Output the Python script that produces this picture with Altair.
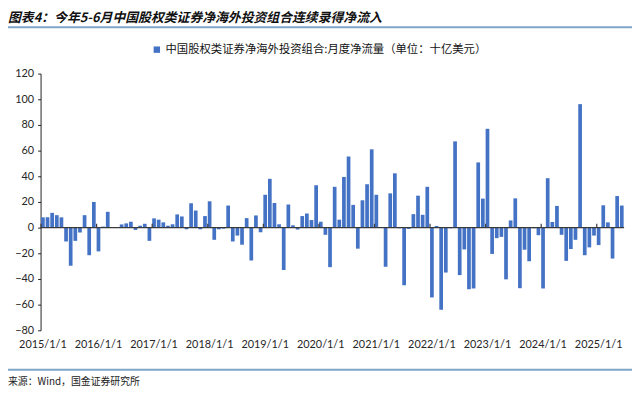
import altair as alt
import pandas as pd

# ---- data ----
years = list(range(2015, 2026))
months = [f"{y}/{m}/1" for y in years for m in range(1, 13)][:126]
year_ticks = [f"{y}/1/1" for y in years]

values = [
    # 2015
    8, 8, 11.5, 9.7, 8, -10.8, -29.7, -10.3, -3.8, 9.7, -21.5, 20,
    # 2016
    -18.5, 0.8, 12.3, 0.3, 0.5, 2.5, 3.3, 4.6, -1.8, 1.5, 3, -10.3,
    # 2017
    7.2, 6.2, 4.1, 1.5, 2.6, 10.3, 8.7, -1.3, 19, 13.3, -1.3, 9,
    # 2018
    20.5, -9.5, -1.3, -0.8, 17.2, -10.8, -6.2, -13.3, 7.4, -25.6, 9.5, -3.6,
    # 2019
    25.6, 38, 19.2, 2.6, -33, 18, 1.8, -1.5, 9, 11, 5.9, 33,
    # 2020
    4.6, -5.6, -30.8, 31.8, 6.2, 39.5, 55.4, 17.7, -16.4, 21.3, 33.8, 61,
    # 2021
    25.6, 0.3, -30.5, 26.7, 42.3, -0.5, -44.9, -1, 10.5, 24.9, 10, 31.8,
    # 2022
    -54.4, 1.3, -64, -35, -0.5, 67.2, -37, -17, -48, -47.4, 50.8, 22.6,
    # 2023
    77, -20.5, -8.2, -7.2, -40.3, 5.6, 22.8, -47.2, -17.2, -26.2, -0.5, -5.9,
    # 2024
    -47.4, 38.5, 4.4, 16.9, -5.6, -25.9, -16.7, -9.5, 96.2, -21.5, -15.4, -6.2,
    # 2025
    -13.6, 17.4, 4.1, -24.1, 24.6, 17.2,
]

series_name = "中国股权类证券净海外投资组合:月度净流量（单位：十亿美元）"
title_text = "图表4：今年5-6月中国股权类证券净海外投资组合连续录得净流入"
source_text = "来源：Wind，国金证券研究所"
y_ticks = list(range(-80, 121, 20))

df = pd.DataFrame({"month": months, "value": values, "series": series_name})
df_ticks = pd.DataFrame({"month": year_ticks, "y0": 0, "y1": 3})

CJK = "Noto Sans CJK SC"
x_scale = alt.Scale(domain=months, paddingInner=0.2, paddingOuter=0.1)
y_scale = alt.Scale(domain=[-80, 120], nice=False)

x_axis = alt.Axis(
    values=year_ticks, labelAngle=0, domain=False, ticks=False,
    labelPadding=8, labelFont="Lato", labelFontSize=11,
    labelColor="#262626", title=None, bandPosition=0,
)
y_axis = alt.Axis(
    values=y_ticks, title=None, grid=False, domainColor="#222222",
    tickColor="#222222", tickSize=3, labelPadding=4, labelFont="Lato",
    labelFontSize=11, labelColor="#262626",
)

bars = alt.Chart(df).mark_bar().encode(
    x=alt.X("month:O", scale=x_scale, sort=months, axis=x_axis),
    y=alt.Y("value:Q", scale=y_scale, axis=y_axis),
    color=alt.Color(
        "series:N",
        scale=alt.Scale(range=["#4472C4"]),
        legend=alt.Legend(
            orient="none", legendX=112, legendY=-30, title=None,
            symbolType="square", symbolSize=42, symbolStrokeWidth=0,
            labelFont=CJK, labelFontSize=11.5, labelColor="#111111",
            labelOffset=3, labelLimit=0,
        ),
    ),
)

zero = alt.Chart(pd.DataFrame({"y": [0]})).mark_rule(
    color="#3a3a3a", strokeWidth=1.3
).encode(y=alt.Y("y:Q", scale=y_scale, axis=y_axis))

year_marks = alt.Chart(df_ticks).mark_rule(color="#3a3a3a", strokeWidth=1.2).encode(
    x=alt.X("month:O", scale=x_scale, sort=months, bandPosition=0, axis=x_axis),
    y=alt.Y("y0:Q", scale=y_scale, axis=y_axis),
    y2="y1:Q",
)

one = pd.DataFrame({"t": [title_text], "s": [source_text]})

title = alt.Chart(one).mark_text(
    font=CJK, fontSize=13, fontWeight="bold", fontStyle="italic",
    align="left", baseline="middle", color="#111111",
).encode(text="t:N", x=alt.value(-33), y=alt.value(-56.5))

source = alt.Chart(one).mark_text(
    font=CJK, fontSize=10, align="left", baseline="middle", color="#222222",
).encode(text="s:N", x=alt.value(-33), y=alt.value(312))

top_line = alt.Chart(one).mark_rule(color="#7fa6c8", strokeWidth=2).encode(
    x=alt.value(-33), x2=alt.value(599), y=alt.value(-47)
)
bottom_line = alt.Chart(one).mark_rule(color="#7fa6c8", strokeWidth=2).encode(
    x=alt.value(-33), x2=alt.value(599), y=alt.value(300)
)

chart = alt.layer(
    bars, zero, year_marks, title, source, top_line, bottom_line
).properties(
    width=591,
    height=260,
    padding={"left": 33, "top": 64, "right": 8, "bottom": 56},
    autosize=alt.AutoSizeParams(type="none"),
    background="white",
).configure_view(stroke=None)

chart.save("out.html", embed_options={"renderer": "svg", "actions": False})
